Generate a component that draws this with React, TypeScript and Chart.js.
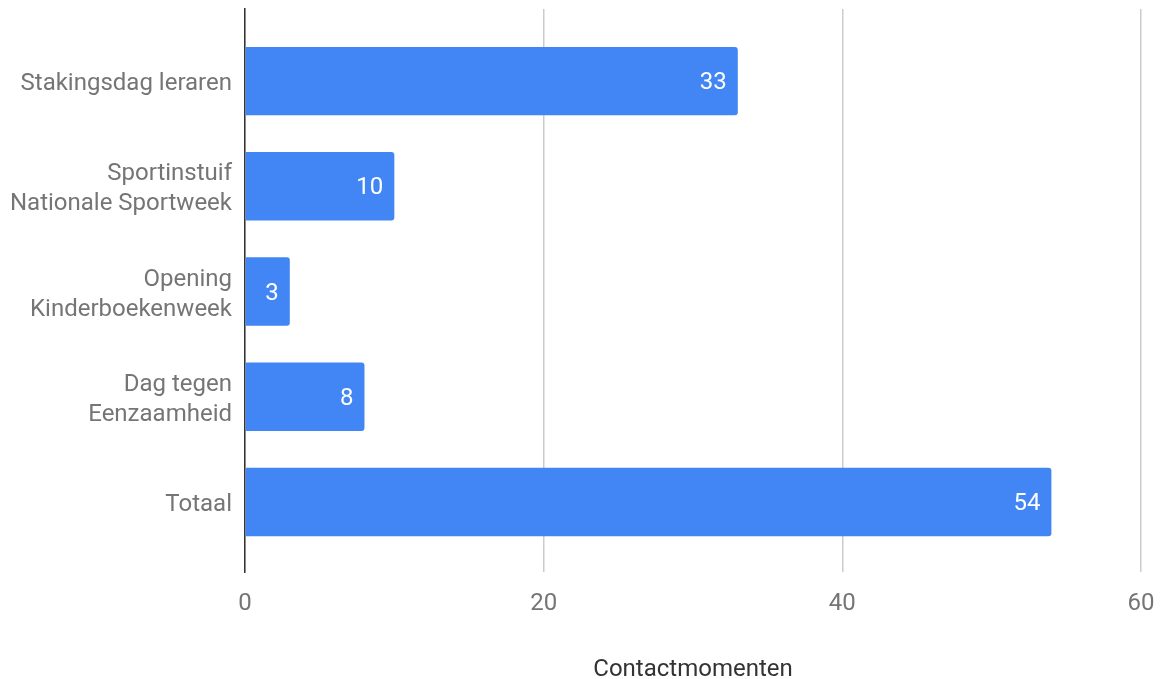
import { useEffect, useRef } from "react";
import { Chart, registerables } from "chart.js";

Chart.register(...registerables);

const categories: (string | string[])[] = [
  "Stakingsdag leraren",
  ["Sportinstuif", "Nationale Sportweek"],
  ["Opening", "Kinderboekenweek"],
  ["Dag tegen", "Eenzaamheid"],
  "Totaal",
];
const contactmomenten = [33, 10, 3, 8, 54];
const xTicks = [0, 20, 40, 60];

const FONT = "Roboto, 'Noto Sans', sans-serif";

const barLabels = {
  id: "barLabels",
  afterDatasetsDraw(chart: Chart) {
    const ctx = chart.ctx;
    const meta = chart.getDatasetMeta(0);
    ctx.save();
    ctx.fillStyle = "#ffffff";
    ctx.font = `24px ${FONT}`;
    ctx.textAlign = "right";
    ctx.textBaseline = "middle";
    meta.data.forEach((bar: any, i: number) => {
      ctx.fillText(String(contactmomenten[i]), bar.x - 11, bar.y + 2);
    });
    ctx.restore();
  },
};

export default function App() {
  const canvasRef = useRef<HTMLCanvasElement>(null);
  const chartRef = useRef<Chart | null>(null);

  useEffect(() => {
    document.body.style.margin = "0";
    if (!canvasRef.current) return;

    chartRef.current?.destroy();
    chartRef.current = new Chart(canvasRef.current, {
      type: "bar",
      data: {
        datasets: [
          {
            label: "Contactmomenten",
            data: contactmomenten.map((v, i) => ({ x: v, y: i })),
            backgroundColor: "#4285f4",
            borderRadius: 3,
            categoryPercentage: 1,
            barPercentage: 0.65,
          },
        ],
      },
      plugins: [barLabels],
      options: {
        indexAxis: "y",
        animation: false,
        responsive: true,
        maintainAspectRatio: false,
        layout: { padding: { top: 9, right: 20, left: 0, bottom: 0 } },
        plugins: {
          legend: { display: false },
          tooltip: { enabled: false },
        },
        scales: {
          x: {
            type: "linear",
            min: 0,
            max: 60,
            afterBuildTicks: (scale: any) => {
              scale.ticks = xTicks.map((v) => ({ value: v }));
            },
            afterFit: (scale: any) => {
              scale.height = 107;
              scale.paddingLeft = 0;
              scale.paddingRight = 0;
            },
            grid: { color: "#cccccc", lineWidth: 1.5, drawTicks: false },
            border: { display: false },
            ticks: {
              color: "#757575",
              font: { family: FONT, size: 24, lineHeight: 1.2 },
              padding: 18,
            },
            title: {
              display: true,
              text: "Contactmomenten",
              color: "#333333",
              font: { family: FONT, size: 24, lineHeight: 1 },
              padding: { top: 0, bottom: -3 },
            },
          },
          y: {
            type: "linear",
            reverse: true,
            offset: false,
            min: -0.685,
            max: 4.665,
            afterBuildTicks: (scale: any) => {
              scale.ticks = categories.map((_, i) => ({ value: i }));
            },
            afterFit: (scale: any) => {
              scale.width = 245;
              scale.paddingTop = 0;
              scale.paddingBottom = 0;
            },
            grid: { display: false },
            border: { display: true, color: "#333333", width: 1.5 },
            ticks: {
              color: "#757575",
              font: { family: FONT, size: 24, lineHeight: "30px" },
              padding: 5,
              labelOffset: 3,
              callback: (value: any) => categories[Number(value)] ?? "",
            },
          },
        },
      },
    });

    return () => {
      chartRef.current?.destroy();
      chartRef.current = null;
    };
  }, []);

  return (
    <div style={{ position: "relative", width: 1161, height: 679, background: "#ffffff" }}>
      <canvas ref={canvasRef} role="img" aria-label="Contactmomenten per activiteit" />
    </div>
  );
}
